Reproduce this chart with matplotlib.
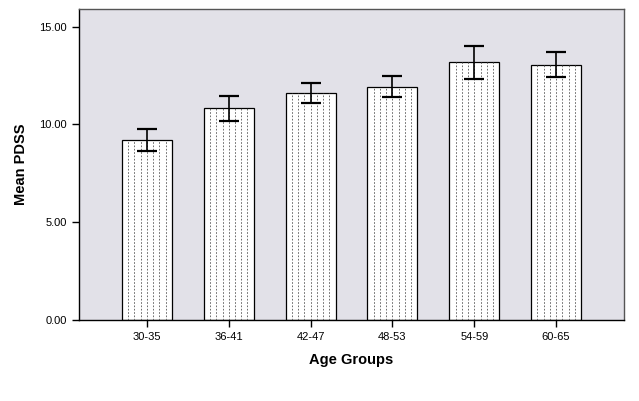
import numpy as np
import matplotlib.pyplot as plt

groups = ["30-35", "36-41", "42-47", "48-53", "54-59", "60-65"]
means = [9.20, 10.83, 11.59, 11.93, 13.20, 13.05]
err_low = [8.64, 10.17, 11.07, 11.39, 12.34, 12.42]
err_high = [9.76, 11.44, 12.12, 12.47, 14.03, 13.68]

plt.rcParams['font.family'] = ['Liberation Sans', 'DejaVu Sans']

fig = plt.figure(figsize=(6.39, 4.01), dpi=100)
ax = fig.add_axes([0.1236, 0.202, 0.853, 0.7756])
ax.set_facecolor("#E2E1E8")

x = np.arange(len(groups))
width = 0.61
means_a = np.array(means)
ax.bar(x, means_a, width=width, color="white", edgecolor="black", linewidth=0.9, zorder=2)

# dotted vertical fill pattern inside each bar
for xi, m in zip(x, means_a):
    xs = np.linspace(xi - width / 2, xi + width / 2, 9)[1:-1]
    ax.vlines(xs, 0, m, colors="#555555", linewidth=0.6, linestyles=(0, (2, 2)), zorder=3)

yerr = [means_a - np.array(err_low), np.array(err_high) - means_a]
ax.errorbar(x, means_a, yerr=yerr, fmt="none", ecolor="black", elinewidth=1.2,
            capsize=7.5, capthick=1.6, zorder=4)

ax.set_xlim(-0.83, len(groups) - 1 + 0.83)
ax.set_ylim(0, 15.9)
ax.set_yticks([0, 5, 10, 15])
ax.set_yticklabels(["%.2f" % v for v in [0, 5, 10, 15]], fontsize=8)
ax.set_xticks(x)
ax.set_xticklabels(groups, fontsize=8)
ax.tick_params(direction="out", length=5, width=1, color="black")

for s in ["left", "bottom"]:
    ax.spines[s].set_color("black")
    ax.spines[s].set_linewidth(1)
for s in ["top", "right"]:
    ax.spines[s].set_color("#555555")
    ax.spines[s].set_linewidth(1)

ax.set_ylabel("Mean PDSS", fontsize=10.5, fontweight="bold", labelpad=8)
ax.set_xlabel("Age Groups", fontsize=10.5, fontweight="bold", labelpad=8)

fig.savefig("out.png", dpi=100)
